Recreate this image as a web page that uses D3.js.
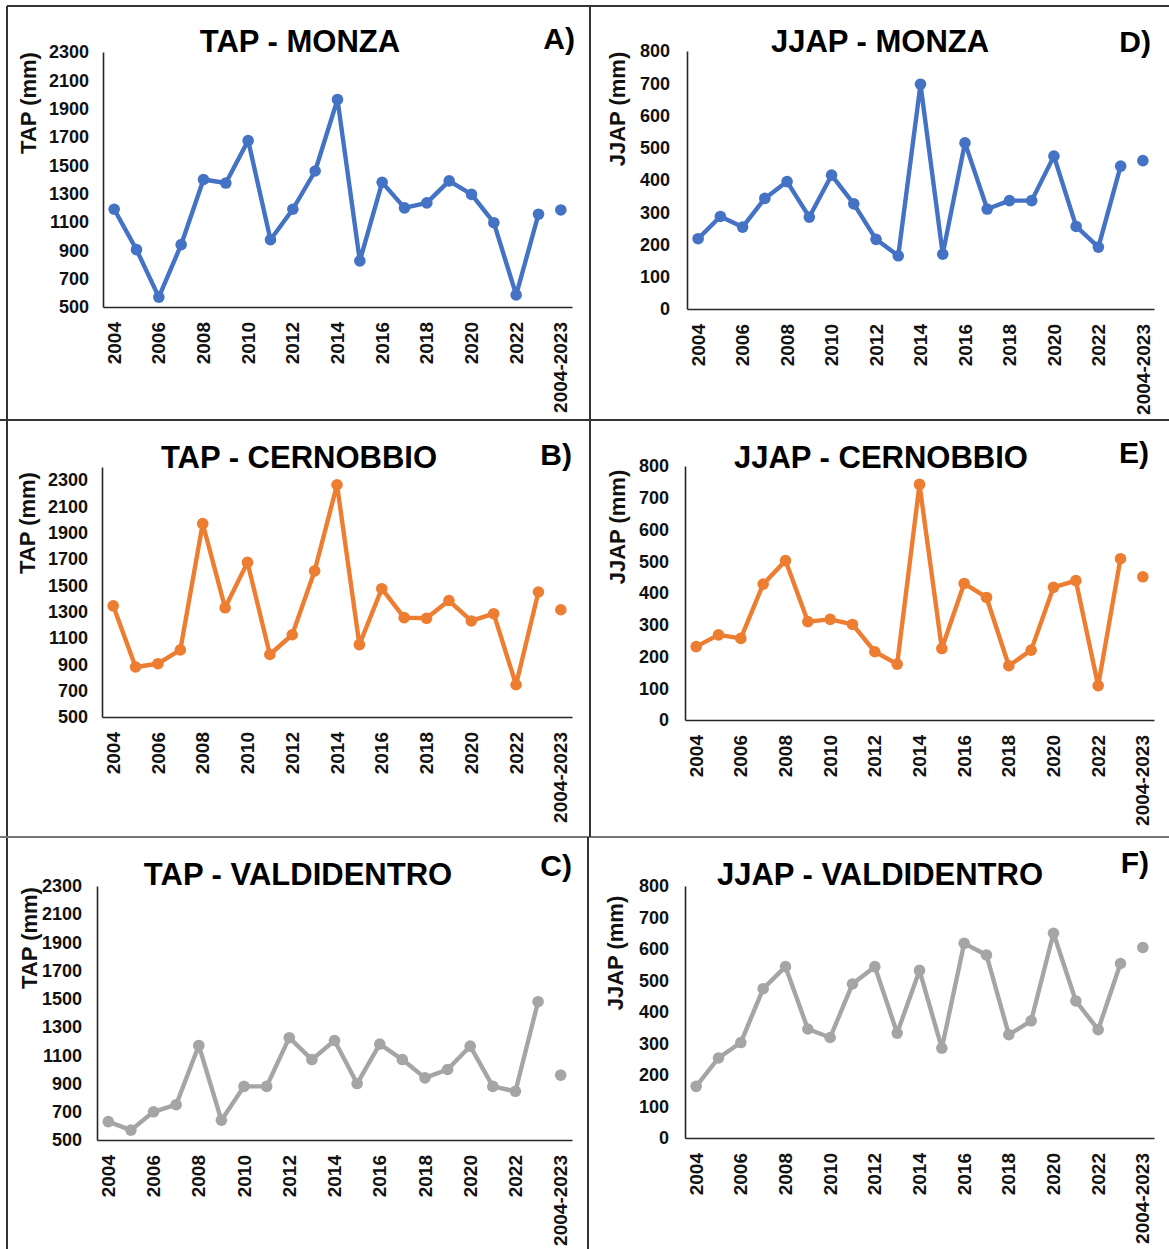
<!DOCTYPE html>
<html>
<head>
<meta charset="utf-8">
<script src="https://cdn.jsdelivr.net/npm/d3@7"></script>
<style>
  body { margin: 0; background: #fff; }
  svg { display: block; }
  text { font-family: "Liberation Sans", Arial, Helvetica, sans-serif; }
</style>
</head>
<body>
<svg id="fig" width="1169" height="1249"></svg>
<script>
// Categories: one per year plus the 2004-2023 mean
const years = d3.range(2004, 2024).map(String);
const categories = [...years, "2004-2023"];
// Only every second category carries a label
const shownLabels = ["2004", "2006", "2008", "2010", "2012", "2014", "2016", "2018", "2020", "2022", "2004-2023"];

// Total annual precipitation (mm)
const tapMonza       = [1190, 905, 570, 940, 1400, 1375, 1675, 975, 1190, 1460, 1965, 825, 1380, 1200, 1235, 1390, 1295, 1095, 585, 1155];
const tapMonzaMean   = 1185;
const tapCernobbio   = [1345, 880, 905, 1010, 1970, 1330, 1675, 975, 1125, 1610, 2265, 1050, 1475, 1255, 1250, 1385, 1230, 1285, 745, 1450];
const tapCernobbioMean = 1315;
const tapValdidentro = [630, 570, 700, 750, 1170, 640, 880, 880, 1225, 1070, 1205, 900, 1180, 1070, 940, 1000, 1165, 880, 845, 1480];
const tapValdidentroMean = 960;

// June-July-August precipitation (mm)
const jjapMonza       = [218, 287, 254, 343, 395, 285, 415, 326, 216, 165, 697, 170, 515, 310, 336, 336, 474, 256, 192, 443];
const jjapMonzaMean   = 460;
const jjapCernobbio   = [231, 268, 257, 428, 502, 310, 317, 301, 215, 176, 742, 225, 430, 386, 171, 220, 418, 439, 108, 508];
const jjapCernobbioMean = 451;
const jjapValdidentro = [164, 254, 303, 474, 544, 346, 319, 489, 544, 333, 532, 285, 618, 581, 328, 372, 650, 435, 344, 554];
const jjapValdidentroMean = 605;

// Axis ticks
const tapTicks  = [500, 700, 900, 1100, 1300, 1500, 1700, 1900, 2100, 2300];
const jjapTicks = [0, 100, 200, 300, 400, 500, 600, 700, 800];

const BLUE = "#4472C4", ORANGE = "#ED7D31", GREY = "#A5A5A5";

const panels = [
  { title: "TAP - MONZA", tag: "A)", yTitle: "TAP (mm)", values: tapMonza, mean: tapMonzaMean, color: BLUE,
    domain: [500, 2300], ticks: tapTicks,
    box: { x0: 103, x1: 572, top: 52, base: 307, gap: 14, tx: 300, ty: 52, gx: 575, gy: 49, ax: 28, ay: 103 } },
  { title: "TAP - CERNOBBIO", tag: "B)", yTitle: "TAP (mm)", values: tapCernobbio, mean: tapCernobbioMean, color: ORANGE,
    domain: [500, 2400], ticks: tapTicks,
    box: { x0: 102, x1: 572, top: 467, base: 717, gap: 14, tx: 299, ty: 468, gx: 572, gy: 465, ax: 27, ay: 523 } },
  { title: "TAP - VALDIDENTRO", tag: "C)", yTitle: "TAP (mm)", values: tapValdidentro, mean: tapValdidentroMean, color: GREY,
    domain: [500, 2300], ticks: tapTicks,
    box: { x0: 97, x1: 572, top: 886, base: 1140, gap: 15, tx: 298, ty: 885, gx: 572, gy: 876, ax: 29, ay: 938 } },
  { title: "JJAP - MONZA", tag: "D)", yTitle: "JJAP (mm)", values: jjapMonza, mean: jjapMonzaMean, color: BLUE,
    domain: [0, 800], ticks: jjapTicks,
    box: { x0: 687, x1: 1154, top: 51, base: 309, gap: 17, tx: 880, ty: 52, gx: 1151, gy: 52, ax: 617, ay: 109 } },
  { title: "JJAP - CERNOBBIO", tag: "E)", yTitle: "JJAP (mm)", values: jjapCernobbio, mean: jjapCernobbioMean, color: ORANGE,
    domain: [0, 800], ticks: jjapTicks,
    box: { x0: 685, x1: 1154, top: 466, base: 720, gap: 16, tx: 881, ty: 468, gx: 1149, gy: 463, ax: 617, ay: 527 } },
  { title: "JJAP - VALDIDENTRO", tag: "F)", yTitle: "JJAP (mm)", values: jjapValdidentro, mean: jjapValdidentroMean, color: GREY,
    domain: [0, 800], ticks: jjapTicks,
    box: { x0: 685, x1: 1154, top: 886, base: 1138, gap: 16, tx: 880, ty: 885, gx: 1149, gy: 873, ax: 615, ay: 953 } }
];

const svg = d3.select("#fig");

// Frame lines separating the six panels
const frame = svg.append("g").attr("stroke", "#333").attr("stroke-width", 2).attr("fill", "none");
frame.append("line").attr("x1", 7).attr("x2", 1169).attr("y1", 6).attr("y2", 6);
frame.append("line").attr("x1", 7).attr("x2", 7).attr("y1", 6).attr("y2", 1249);
frame.append("line").attr("x1", 0).attr("x2", 1169).attr("y1", 420).attr("y2", 420);
frame.append("line").attr("x1", 0).attr("x2", 1169).attr("y1", 837).attr("y2", 837).attr("stroke", "#777");
frame.append("line").attr("x1", 590).attr("x2", 590).attr("y1", 6).attr("y2", 837);
frame.append("line").attr("x1", 588).attr("x2", 588).attr("y1", 837).attr("y2", 1249);

panels.forEach(p => {
  const b = p.box;
  const g = svg.append("g");

  const x = d3.scaleBand().domain(categories).range([b.x0, b.x1]);
  const y = d3.scaleLinear().domain(p.domain).range([b.base, b.top]);

  // Y axis
  const yAxis = g.append("g")
    .attr("transform", `translate(${b.x0},0)`)
    .call(d3.axisLeft(y).tickValues(p.ticks).tickFormat(d3.format("d"))
      .tickSize(0).tickPadding(b.gap).tickSizeOuter(0));
  yAxis.select(".domain").attr("stroke", "#262626").attr("stroke-width", 1.6);
  yAxis.selectAll("text")
    .attr("fill", "#111").attr("font-size", 18).attr("font-weight", "bold");

  // X axis with rotated year labels
  const xAxis = g.append("g")
    .attr("transform", `translate(0,${b.base})`)
    .call(d3.axisBottom(x).tickSize(0).tickSizeOuter(0)
      .tickFormat(d => shownLabels.includes(d) ? d : ""));
  xAxis.select(".domain").attr("stroke", "#262626").attr("stroke-width", 1.6);
  xAxis.selectAll("text")
    .attr("fill", "#111").attr("font-size", 19).attr("font-weight", "bold")
    .attr("transform", "rotate(-90)")
    .attr("text-anchor", "end")
    .attr("x", -15).attr("y", 0).attr("dy", "0.35em");

  // Yearly series: line plus markers
  const pts = years.map((yr, i) => ({ c: yr, v: p.values[i] }));
  const cx = d => x(d.c) + x.bandwidth() / 2;
  g.append("path")
    .datum(pts)
    .attr("fill", "none")
    .attr("stroke", p.color)
    .attr("stroke-width", 4.4)
    .attr("stroke-linejoin", "round")
    .attr("d", d3.line().x(cx).y(d => y(d.v)));
  g.selectAll("circle.yr")
    .data(pts).join("circle")
    .attr("class", "yr")
    .attr("cx", cx).attr("cy", d => y(d.v))
    .attr("r", 5.8)
    .attr("fill", p.color);

  // Mean of the whole period as an isolated marker
  g.append("circle")
    .attr("cx", cx({ c: "2004-2023" }))
    .attr("cy", y(p.mean))
    .attr("r", 5.8)
    .attr("fill", p.color);

  // Title, panel tag and axis title
  g.append("text")
    .attr("x", b.tx).attr("y", b.ty)
    .attr("text-anchor", "middle")
    .attr("font-size", 31).attr("font-weight", "bold").attr("fill", "#000")
    .text(p.title);
  g.append("text")
    .attr("x", b.gx).attr("y", b.gy)
    .attr("text-anchor", "end")
    .attr("font-size", 30).attr("font-weight", "bold").attr("fill", "#000")
    .text(p.tag);
  g.append("text")
    .attr("transform", `translate(${b.ax},${b.ay}) rotate(-90)`)
    .attr("text-anchor", "middle")
    .attr("dy", "0.35em")
    .attr("font-size", 22).attr("font-weight", "bold").attr("fill", "#111")
    .text(p.yTitle);
});
</script>
</body>
</html>
